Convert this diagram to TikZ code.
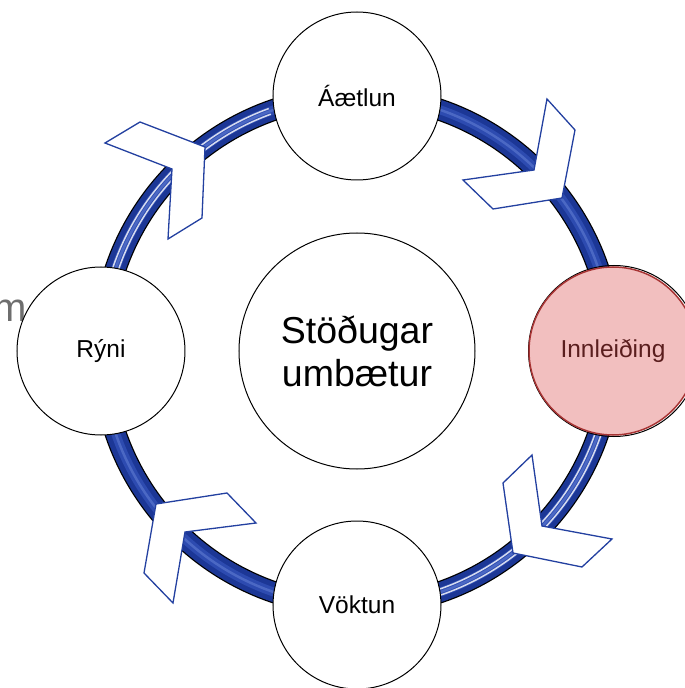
\documentclass[tikz,border=0pt]{standalone}
\usepackage{fontspec}
\setmainfont{Liberation Sans}
\usepackage{tikz}
\usetikzlibrary{positioning,calc}
\definecolor{ringblue}{HTML}{1C3796}
\definecolor{ringmid}{HTML}{2D4BB0}
\definecolor{ringlight}{HTML}{6A86D8}
\definecolor{chevblue}{HTML}{2340A0}
\definecolor{pinkfill}{HTML}{F2BFBF}
\definecolor{innred}{HTML}{A83434}
\definecolor{innbrown}{HTML}{5A1E1E}
\definecolor{fadegrey}{HTML}{6E6E6E}

\begin{document}
\begin{tikzpicture}[x=1pt,y=1pt,
    phase/.style={circle, draw=black, line width=1pt, fill=white,
      minimum size=168pt, inner sep=0pt,
      font=\fontsize{24.5}{29}\selectfont},
    chevron/.style={draw=chevblue, line width=1.3pt, fill=white, line join=miter}]
    \useasboundingbox (-357,-337) rectangle (328,351);

    % Ring
    \draw[black, line width=22pt] (0,0) circle (255);
    \draw[ringblue, line width=19.5pt] (0,0) circle (255);
    \draw[ringmid, line width=9pt] (0,0) circle (255);
    \draw[ringlight, line width=2.5pt, opacity=0.5] (0,0) circle (255);

    % Highlights
    \draw[white, line width=1.5pt, opacity=0.8] (110:252) arc (110:178:252);
    \draw[white, line width=1.5pt, opacity=0.8] (110:258) arc (110:178:258);
    \draw[white, line width=1.5pt, opacity=0.8] (280:252) arc (280:348:252);
    \draw[white, line width=1.5pt, opacity=0.8] (280:258) arc (280:348:258);

    % Chevrons
    \draw[chevron] (-252,208) -- (-217,229) -- (-152,204) -- (-155,133)
        -- (-189,112) -- (-185,182) -- cycle;
    \draw[chevron] (106,171) -- (177,181) -- (190,252) -- (218,221)
        -- (205,153) -- (136,142) -- cycle;
    \draw[chevron] (175,-104) -- (185,-175) -- (255,-188) -- (225,-216)
        -- (156,-202) -- (146,-132) -- cycle;
    \draw[chevron] (-130,-142) -- (-101,-172) -- (-172,-181) -- (-184,-252)
        -- (-213,-222) -- (-201,-153) -- cycle;

    % Cut-off text
    \node[anchor=base east, inner sep=0pt, text=fadegrey,
      font=\fontsize{40}{48}\selectfont] (frag) at (-330,29) {m};

    % Centre
    \node[circle, draw=black, line width=1pt, fill=white, minimum size=236pt,
      inner sep=0pt, align=center, font=\fontsize{37.5}{43}\selectfont]
      (hub) at (0,0) {Stöðugar\\umbætur};

    % Phases
    \node[phase] (plan) at (90:255) {Áætlun};
    \draw[black, line width=1pt] (0:257) circle (85.5);
    \node[phase, fill=pinkfill, draw=innred, line width=1.5pt, text=innbrown]
      (impl) at (0:256) {Innleiðing};
    \node[phase] (watch) at (270:254) {Vöktun};
    \node[phase] (review) at (180:256) {Rýni};
\end{tikzpicture}
\end{document}
